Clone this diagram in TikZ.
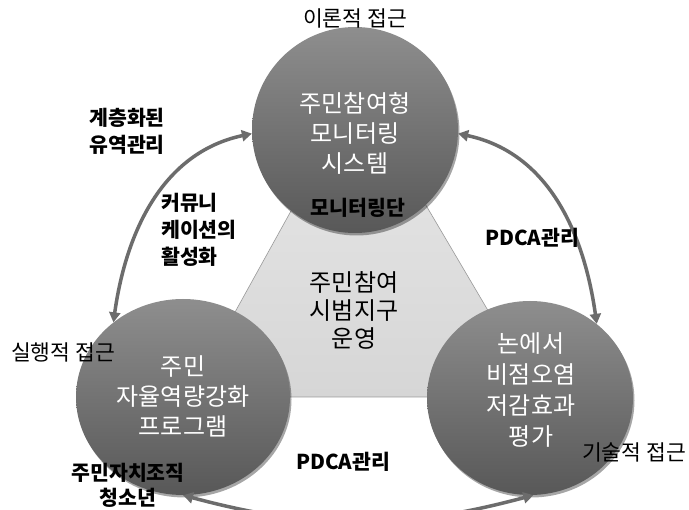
\documentclass[tikz,border=0pt]{standalone}
\usepackage{fontspec}
\setmainfont{Noto Sans CJK KR}
\usetikzlibrary{arrows.meta,shadows,shapes.geometric}
\definecolor{arrowgray}{RGB}{108,108,108}
\definecolor{balltop}{RGB}{142,142,142}
\definecolor{ballbot}{RGB}{88,88,88}
\definecolor{tritop}{RGB}{232,232,232}
\definecolor{tribot}{RGB}{214,214,214}
\begin{document}
\begin{tikzpicture}[x=1pt,y=1pt,
  ball/.style={ellipse, inner sep=0pt, top color=balltop, bottom color=ballbot,
    draw=none, drop shadow={shadow xshift=1.5pt, shadow yshift=-2.5pt, opacity=0.35, fill=black}},
  conn/.style={draw=arrowgray, line width=3.5pt,
    {Triangle[length=10pt,width=11pt]}-{Triangle[length=10pt,width=11pt]}},
  intext/.style={text=white, font=\fontsize{24}{30}\selectfont, align=center, inner sep=0pt},
  midtext/.style={text=black, font=\fontsize{24}{28}\selectfont, align=center, inner sep=0pt},
  boldlbl/.style={text=black, font=\fontsize{20.5}{27}\selectfont\bfseries, align=center, inner sep=0pt},
  approach/.style={text=black, font=\fontsize{21.5}{24}\selectfont, inner sep=0pt}
]
\useasboundingbox (0,0) rectangle (689,-510);
\clip (0,0) rectangle (689,-510);
\fill[white] (0,0) rectangle (689,-510);

% triangle
\coordinate (ta) at (358,-90);
\coordinate (tl) at (188,-397);
\coordinate (tr) at (539,-397);
\draw[draw=gray!80, line width=0.6pt, top color=tritop, bottom color=tribot] (ta) -- (tl) -- (tr) -- cycle;

% circles
\node[ball, minimum width=206pt, minimum height=206pt] (ctop) at (355,-130) {};
\node[ball, minimum width=214pt, minimum height=196pt] (cleft) at (183,-397) {};
\node[ball, minimum width=206pt, minimum height=194pt] (cright) at (530,-398) {};

% connectors
\draw[conn] (ctop.182) to[out=192,in=82] (cleft.133);
\draw[conn] (ctop.-2) to[out=-12,in=98] (cright.48);
\draw[conn] (cleft.-90) to[out=-15,in=-165] (cright.-88);

% texts
\node[approach] (a1) at (355,-18) {이론적 접근};
\node[approach] (a2) at (63,-352) {실행적 접근};
\node[approach] (a3) at (634,-452) {기술적 접근};

\node[intext] (t1) at (355,-133) {주민참여형\\모니터링\\시스템};
\node[intext] (t2) at (183,-396) {주민\\자율역량강화\\프로그램};
\node[intext, font=\fontsize{24}{31}\selectfont] (t3) at (531,-390) {논에서\\비점오염\\저감효과\\평가};
\node[midtext] (t4) at (354,-310) {주민참여\\시범지구\\운영};

\node[boldlbl] (l1) at (358,-208) {모니터링단};
\node[boldlbl] (l2) at (127,-131) {계층화된\\유역관리};
\node[boldlbl, align=left, anchor=west] (l3) at (161,-230) {커뮤니\\케이션의\\활성화};
\node[boldlbl] (l4) at (532,-238) {PDCA관리};
\node[boldlbl] (l5) at (343,-462) {PDCA관리};
\node[boldlbl, font=\fontsize{20.5}{25}\selectfont\bfseries] (l6) at (128,-485) {주민자치조직\\청소년};
\end{tikzpicture}
\end{document}
